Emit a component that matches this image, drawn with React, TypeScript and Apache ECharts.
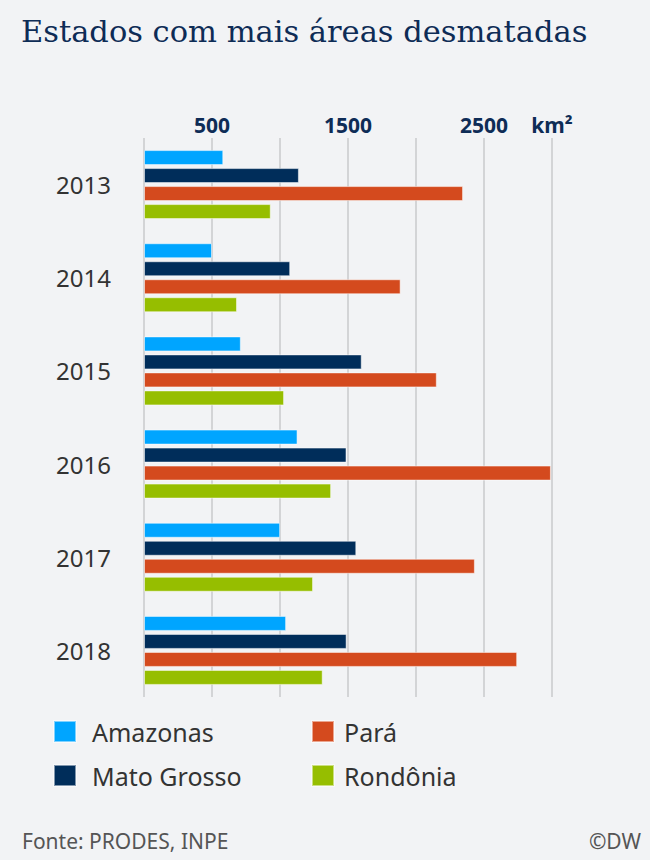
import React, { useEffect, useRef } from "react";
import * as echarts from "echarts";

const years = ["2013", "2014", "2015", "2016", "2017", "2018"];
const amazonas = [583, 500, 712, 1129, 1001, 1045];
const matoGrosso = [1139, 1075, 1601, 1489, 1561, 1490];
const para = [2346, 1887, 2153, 2992, 2433, 2744];
const rondonia = [932, 684, 1030, 1376, 1243, 1314];
const shownTicks = [500, 1500, 2500];
const unitLabel = "km²";

const seriesNames = ["Amazonas", "Mato Grosso", "Pará", "Rondônia"];
const seriesData = [amazonas, matoGrosso, para, rondonia];
const colors = ["#00a5ff", "#002d5a", "#d44a1e", "#96be00"];

export default function App() {
  const ref = useRef<HTMLDivElement>(null);
  useEffect(() => {
    if (!ref.current) return;
    const chart = echarts.init(ref.current, null, { renderer: "svg" });
    const font = "'Noto Sans', 'Open Sans', sans-serif";
    const legendCommon = {
      orient: "vertical",
      top: 719,
      padding: 0,
      itemWidth: 22,
      itemHeight: 21,
      itemGap: 19,
      icon: "rect",
    };
    chart.setOption({
      animation: false,
      backgroundColor: "#f2f3f5",
      title: {
        text: "Estados com mais áreas desmatadas",
        left: 16,
        top: 11,
        textStyle: {
          fontFamily: "'DejaVu Serif', 'Liberation Serif', serif",
          fontSize: 30.5,
          fontWeight: "normal",
          color: "#0e2c56",
        },
      },
      grid: { left: 144, right: 98, top: 138, bottom: 163, containLabel: false },
      xAxis: {
        type: "value",
        position: "top",
        min: 0,
        max: 3000,
        interval: 500,
        axisLine: { show: false },
        axisTick: { show: false },
        splitLine: { lineStyle: { color: "#d3d4d6", width: 2 } },
        axisLabel: {
          margin: 3,
          fontFamily: font,
          fontSize: 21,
          fontWeight: "bold",
          color: "#0e2c56",
          formatter: (v: number) =>
            v === 3000 ? unitLabel : shownTicks.includes(v) ? String(v) : "",
        },
      },
      yAxis: {
        type: "category",
        data: years,
        inverse: true,
        axisLine: { show: false },
        axisTick: { show: false },
        axisLabel: { margin: 33, fontFamily: font, fontSize: 24, color: "#333" },
      },
      legend: [
        {
          ...legendCommon,
          data: ["Amazonas", "Mato Grosso"],
          left: 53,
          textStyle: {
            fontFamily: font,
            fontSize: 25,
            lineHeight: 21,
            color: "#333",
            padding: [0, 0, 0, 11],
          },
        },
        {
          ...legendCommon,
          data: ["Pará", "Rondônia"],
          left: 311,
          textStyle: {
            fontFamily: font,
            fontSize: 25,
            lineHeight: 21,
            color: "#333",
            padding: [0, 0, 0, 5],
          },
        },
      ],
      graphic: [
        {
          type: "text",
          left: 22,
          top: 830,
          style: { text: "Fonte: PRODES, INPE", fontFamily: font, fontSize: 21, fill: "#555" },
        },
        {
          type: "text",
          right: 9,
          top: 830,
          style: { text: "©DW", fontFamily: font, fontSize: 21, fill: "#555" },
        },
      ],
      series: seriesNames.map((name, i) => ({
        name,
        type: "bar",
        data: seriesData[i],
        barWidth: 15,
        barGap: "20%",
        itemStyle: { color: colors[i], borderColor: "rgba(255,255,255,0.5)", borderWidth: 1 },
      })),
    });
    return () => chart.dispose();
  }, []);
  return (
    <div
      ref={ref}
      style={{ position: "fixed", left: 0, top: 0, width: 650, height: 860 }}
    />
  );
}
